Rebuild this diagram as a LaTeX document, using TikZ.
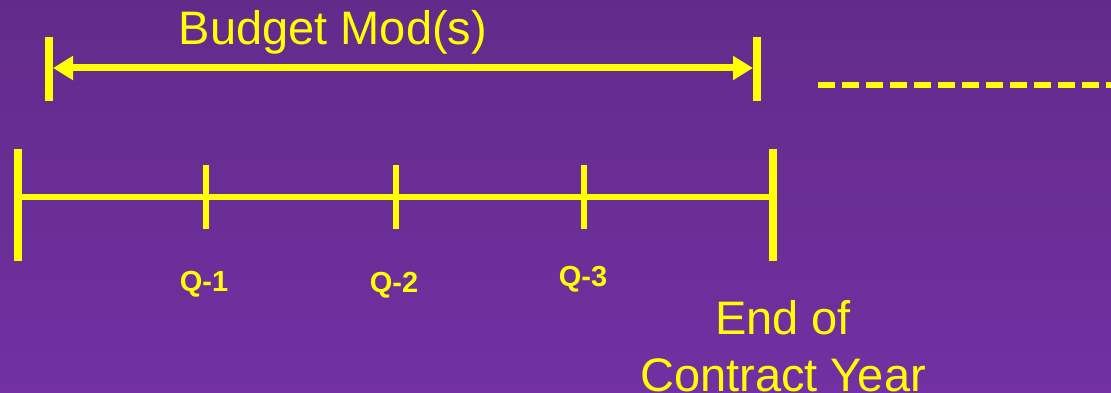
\documentclass[tikz,border=0pt]{standalone}
\usepackage{fontspec}
\setmainfont{Liberation Sans}
\usetikzlibrary{arrows.meta}
\definecolor{bgtop}{RGB}{98,43,138}
\definecolor{bgbot}{RGB}{114,48,162}
\definecolor{ylw}{RGB}{255,255,0}
\tikzset{
  bigbar/.style={draw=ylw,line width=8pt},
  tickbar/.style={draw=ylw,line width=6.5pt},
  axisline/.style={draw=ylw,line width=6pt},
  spanarrow/.style={draw=ylw,line width=7pt,{Triangle[length=20pt,width=23pt]}-{Triangle[length=20pt,width=23pt]}},
  dashline/.style={draw=ylw,line width=6pt,dash pattern=on 17.3pt off 6.7pt},
  bigtext/.style={text=ylw,font=\fontsize{47}{57}\selectfont,inner sep=0pt,anchor=base},
  qtext/.style={text=ylw,font=\fontsize{29}{34}\selectfont\bfseries,inner sep=0pt,anchor=base},
}
\begin{document}
\begin{tikzpicture}[x=1pt,y=-1pt]
\useasboundingbox (0,0) rectangle (1111,393);
\shade[top color=bgtop,bottom color=bgbot] (0,0) rectangle (1111,393);
% span arrow
\coordinate (aLt) at (49,37); \coordinate (aLb) at (49,101);
\coordinate (aRt) at (757,37); \coordinate (aRb) at (757,101);
\coordinate (aL) at (53,68); \coordinate (aR) at (753,68);
\draw[bigbar] (aLt) -- (aLb);
\draw[bigbar] (aRt) -- (aRb);
\draw[spanarrow] (aL) -- (aR);
\node[bigtext] (budget) at (333,45) {Budget Mod(s)};
% dashed continuation
\coordinate (d1) at (818,85); \coordinate (d2) at (1115,85);
\draw[dashline] (d1) -- (d2);
% timeline
\coordinate (t0) at (18,197); \coordinate (t4) at (773,197);
\coordinate (t1) at (206,197); \coordinate (t2) at (396,197); \coordinate (t3) at (584,197);
\draw[axisline] (t0) -- (t4);
\draw[bigbar] (18,149) -- (18,261);
\draw[bigbar] (773,149) -- (773,261);
\draw[tickbar] (206,165) -- (206,229);
\draw[tickbar] (396,165) -- (396,229);
\draw[tickbar] (584,165) -- (584,229);
\node[qtext] (q1) at (204,291) {Q-1};
\node[qtext] (q2) at (394,292) {Q-2};
\node[qtext] (q3) at (583,286) {Q-3};
\node[bigtext] (end1) at (783,334) {End of};
\node[bigtext] (end2) at (783,391) {Contract Year};
\end{tikzpicture}
\end{document}
